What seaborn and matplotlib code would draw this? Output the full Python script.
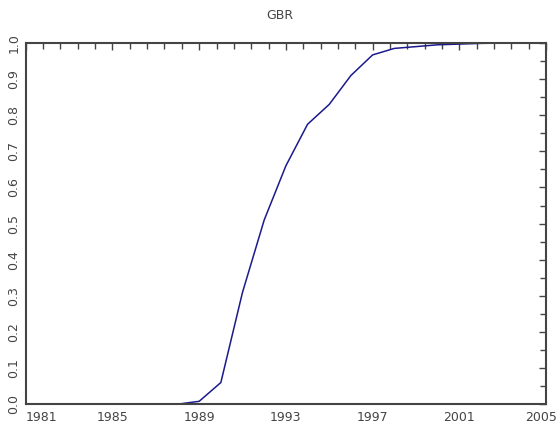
import matplotlib
matplotlib.use("Agg")
import matplotlib.pyplot as plt
import matplotlib.transforms as mtransforms
import seaborn as sns
import pandas as pd
import numpy as np
from matplotlib.ticker import MultipleLocator, FixedLocator

years = list(range(1981, 2006))
share = [0.0, 0.0, 0.0, 0.0, 0.0, 0.0, 0.0, 0.0,
         0.008, 0.06, 0.31, 0.51, 0.66, 0.775, 0.83, 0.91,
         0.967, 0.985, 0.99, 0.995, 0.997, 0.999, 1.0, 1.0, 1.0]
x_ticks = [1981, 1985, 1989, 1993, 1997, 2001, 2005]
y_ticks = [0.0, 0.1, 0.2, 0.3, 0.4, 0.5, 0.6, 0.7, 0.8, 0.9, 1.0]

df = pd.DataFrame({"year": years, "share": share})

sns.set_style("white")
plt.rcParams["font.family"] = ["DejaVu Sans"]

fig = plt.figure(figsize=(5.6, 4.3), dpi=100)
ax = fig.add_axes([0.046, 0.06, 0.929, 0.84])

sns.lineplot(data=df, x="year", y="share", color="#1a1a8c", linewidth=1.1, ax=ax)

ax.set_xlim(1981, 2005)
ax.set_ylim(0, 1.0)
ax.set_xticks(x_ticks)
ax.set_yticks(y_ticks)
ax.set_yticklabels([f"{v:.1f}" for v in y_ticks], rotation=90, va="center")
ax.xaxis.set_minor_locator(FixedLocator(np.arange(1981, 2005.01, 0.8)))
ax.yaxis.set_minor_locator(MultipleLocator(0.05))
ax.tick_params(which="both", direction="in", top=True, right=True,
               color="#444444", labelcolor="#444444", labelsize=9, width=1.0)
ax.tick_params(which="major", length=5)
ax.tick_params(which="minor", length=4)
ax.tick_params(axis="y", pad=4)
ax.tick_params(axis="x", pad=5)
ax.set_xlabel("")
ax.set_ylabel("")
for s in ax.spines.values():
    s.set_visible(True)
    s.set_color("#444444")
    s.set_linewidth(1.5)

# keep the end labels inside the frame
xlabels = ax.get_xticklabels()
xlabels[0].set_horizontalalignment("left")
xlabels[-1].set_transform(xlabels[-1].get_transform() +
                          mtransforms.ScaledTranslation(-0.05, 0, fig.dpi_scale_trans))

fig.text(0.5, 0.965, "GBR", ha="center", va="center", fontsize=9, color="#444444")

fig.savefig("out.png", dpi=100)
